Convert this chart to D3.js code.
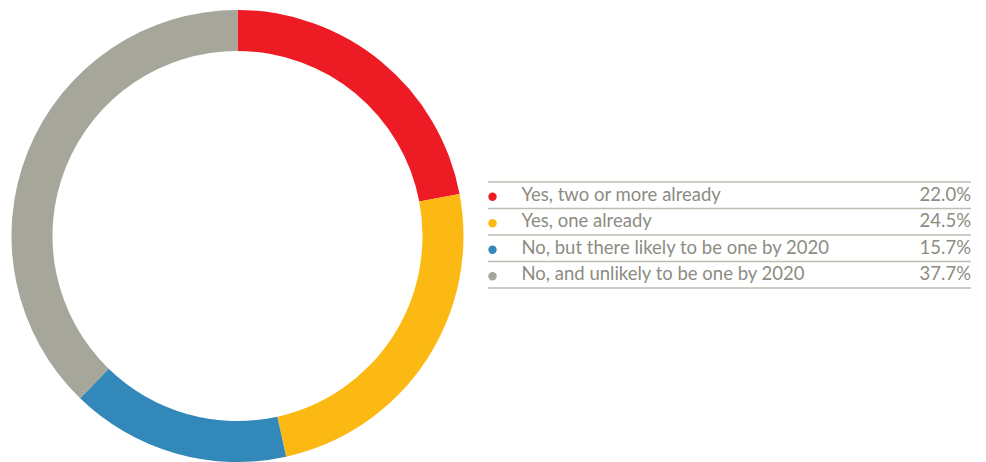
<!DOCTYPE html>
<html>
<head>
<meta charset="utf-8">
<script src="https://cdn.jsdelivr.net/npm/d3@7"></script>
<style>
  html, body { margin: 0; padding: 0; background: #fff; }
  svg { display: block; }
</style>
</head>
<body>
<svg id="chart" width="986" height="462"></svg>
<script>
// Survey answers, their shares (%) and colours
const categories = [
  "Yes, two or more already",
  "Yes, one already",
  "No, but there likely to be one by 2020",
  "No, and unlikely to be one by 2020"
];
const values = [22.0, 24.5, 15.7, 37.7];
const valueLabels = ["22.0%", "24.5%", "15.7%", "37.7%"];
const colors = ["#ED1C24", "#FDB913", "#3288B8", "#A7A69B"];

const svg = d3.select("#chart");
const W = 986, H = 462;

// Donut
const cx = 237.5, cy = 236, outerR = 226, innerR = 185;
const pie = d3.pie().sort(null).value(d => d)(values);
const arc = d3.arc().innerRadius(innerR).outerRadius(outerR);
const color = d3.scaleOrdinal().domain(categories).range(colors);

svg.append("g")
  .attr("transform", `translate(${cx},${cy})`)
  .selectAll("path")
  .data(pie)
  .join("path")
  .attr("d", arc)
  .attr("fill", (d, i) => color(categories[i]));

// Legend table
const x0 = 488, x1 = 971;
const y = d3.scaleBand().domain(categories).range([182, 288]).padding(0);
const lg = svg.append("g");

const rules = d3.range(categories.length + 1).map(i => 182 + i * y.step());
lg.selectAll("line")
  .data(rules)
  .join("line")
  .attr("x1", x0).attr("x2", x1)
  .attr("y1", d => d).attr("y2", d => d)
  .attr("stroke", "#BDBDB2")
  .attr("stroke-width", 1.5);

const rows = lg.selectAll("g.row")
  .data(categories)
  .join("g")
  .attr("class", "row")
  .attr("transform", d => `translate(0,${y(d) + y.bandwidth() / 2})`);

rows.append("circle")
  .attr("cx", 492.5).attr("cy", 1.5).attr("r", 4.2)
  .attr("fill", d => color(d));

rows.append("text")
  .attr("x", 521.5).attr("y", 1)
  .attr("dominant-baseline", "middle")
  .attr("font-family", "Lato, sans-serif")
  .attr("font-size", 18.5)
  .attr("fill", "#8C8C82")
  .text(d => d);

rows.append("text")
  .attr("x", x1).attr("y", 1)
  .attr("text-anchor", "end")
  .attr("dominant-baseline", "middle")
  .attr("font-family", "Lato, sans-serif")
  .attr("font-size", 18.5)
  .attr("fill", "#8C8C82")
  .text((d, i) => valueLabels[i]);
</script>
</body>
</html>
